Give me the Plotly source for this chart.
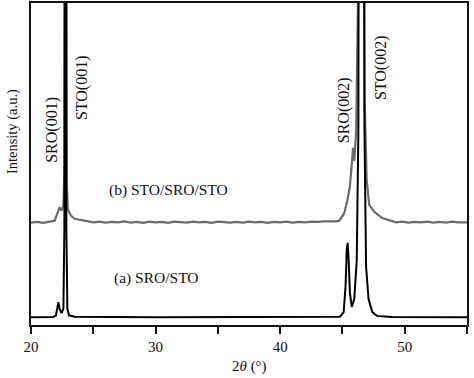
import plotly.graph_objects as go

# ---- data (intensity in arbitrary units, 0-100 = plot height) ----
a_x = [20.0, 21.8, 22.0, 22.1, 22.2, 22.3, 22.45, 22.6, 22.68, 22.72, 22.8, 22.84, 22.92, 23.05, 23.5,
       30.0, 40.0, 44.8, 45.1, 45.25, 45.35, 45.42, 45.5, 45.6, 45.75, 45.95, 46.15, 46.28, 46.33,
       46.7, 46.77, 46.9, 47.1, 47.4, 47.8, 49.0, 55.0]
a_y = [2.4, 2.5, 3.0, 5.0, 7.1, 5.0, 3.7, 5.0, 30.0, 200.0, 200.0, 30.0, 5.0, 3.0, 2.6,
       2.4, 2.4, 2.6, 4.0, 12.0, 23.5, 25.5, 20.0, 10.0, 5.6, 8.0, 20.0, 60.0, 200.0,
       200.0, 60.0, 18.0, 8.0, 4.0, 2.8, 2.5, 2.4]

b_x = [20.0, 20.5, 21.0, 21.5, 21.9, 22.1, 22.3, 22.45, 22.6, 22.7, 22.74, 22.82, 22.87, 22.95, 23.2,
       23.5, 24.0, 24.5, 25.0, 25.5, 26.0, 26.5, 27.0, 27.5, 28.0, 28.5, 29.0, 29.5, 30.0,
       30.5, 31.0, 31.5, 32.0, 32.5, 33.0, 33.5, 34.0, 34.5, 35.0, 35.5, 36.0, 36.5, 37.0,
       37.5, 38.0, 38.5, 39.0, 39.5, 40.0, 40.5, 41.0, 41.5, 42.0, 42.5, 43.0, 43.5, 44.0,
       44.5, 44.75, 44.9, 45.15, 45.4, 45.6, 45.75, 45.85, 45.95, 46.1, 46.25, 46.32, 46.68,
       46.78, 46.95, 47.15, 47.6, 48.2, 48.7, 49.3, 49.8, 50.3, 50.8, 51.3, 51.8, 52.3,
       52.8, 53.3, 53.8, 54.3, 55.0]
b_y = [31.8, 32.0, 31.7, 32.1, 32.4, 34.5, 36.6, 35.5, 37.0, 50.0, 200.0, 200.0, 45.0, 36.0, 34.0,
       33.0, 32.6, 32.2, 31.9, 32.1, 31.8, 32.0, 31.9, 32.2, 31.8, 32.0, 31.7, 32.1, 31.9,
       32.0, 31.7, 32.1, 31.9, 31.8, 32.1, 31.9, 32.0, 31.7, 32.1, 31.9, 31.8, 32.0, 31.8,
       32.1, 31.9, 32.0, 31.7, 32.0, 31.9, 32.1, 31.8, 32.0, 31.9, 32.1, 32.0, 32.2, 32.1,
       32.2, 32.4, 33.2, 34.8, 38.8, 43.0, 50.0, 55.0, 51.0, 60.0, 100.0, 200.0, 200.0,
       70.0, 45.0, 37.3, 35.0, 33.2, 32.5, 31.9, 32.1, 31.8, 32.0, 31.9, 32.1, 31.8,
       32.0, 31.8, 32.1, 31.9, 31.9]

peak_labels = ["SRO(001)", "STO(001)", "SRO(002)", "STO(002)"]
peak_label_x = [21.68, 24.1, 45.15, 48.1]
peak_label_y = [60.6, 73.6, 66.8, 79.8]

series_labels = ["(b) STO/SRO/STO", "(a) SRO/STO"]
series_label_x = [31.0, 30.1]
series_label_y = [41.9, 14.6]

x_ticks = [20, 30, 40, 50]

FONT = "Liberation Serif, Times New Roman, serif"
INK = "#111111"

fig = go.Figure()
fig.add_trace(go.Scatter(x=b_x, y=b_y, mode="lines",
                         line=dict(color="#6b6b6b", width=2.2), showlegend=False))
fig.add_trace(go.Scatter(x=a_x, y=a_y, mode="lines",
                         line=dict(color="#000000", width=2.0), showlegend=False))

for t, x, y in zip(peak_labels, peak_label_x, peak_label_y):
    fig.add_annotation(x=x, y=y, xref="x", yref="y", text=t, showarrow=False,
                       textangle=-90, font=dict(family=FONT, size=16, color=INK))
for t, x, y in zip(series_labels, series_label_x, series_label_y):
    fig.add_annotation(x=x, y=y, xref="x", yref="y", text=t, showarrow=False,
                       font=dict(family=FONT, size=15.5, color=INK))

# axis titles
fig.add_annotation(x=0, y=0.599, xref="paper", yref="paper", xshift=-19,
                   xanchor="center", yanchor="middle",
                   text="Intensity (a.u.)", showarrow=False, textangle=-90,
                   font=dict(family=FONT, size=14.5, color=INK))
fig.add_annotation(x=0.5, y=-0.130, xref="paper", yref="paper",
                   xanchor="center", yanchor="middle",
                   text="2<i>θ</i> (°)", showarrow=False,
                   font=dict(family=FONT, size=15, color=INK))

fig.update_layout(
    width=474, height=378,
    margin=dict(l=31, r=7, t=3, b=53),
    paper_bgcolor="white", plot_bgcolor="white",
    font=dict(family=FONT, size=15, color=INK),
    xaxis=dict(range=[20, 55], tickvals=x_ticks, ticks="outside", ticklen=7, tickwidth=1.5,
               tickcolor=INK, automargin=False,
               minor=dict(dtick=5, tick0=20, ticks="outside", ticklen=7, tickwidth=1.5, tickcolor=INK),
               showline=True, linecolor=INK, linewidth=1.5, mirror=True,
               showgrid=False, zeroline=False,
               tickfont=dict(family=FONT, size=15, color=INK)),
    yaxis=dict(range=[0, 100], showticklabels=False, ticks="", automargin=False,
               showline=True, linecolor=INK, linewidth=1.5, mirror=True,
               showgrid=False, zeroline=False),
)

fig.write_html("out.html", config={"displayModeBar": False},
               post_script="document.body.style.margin='0';document.body.style.overflow='hidden';")
